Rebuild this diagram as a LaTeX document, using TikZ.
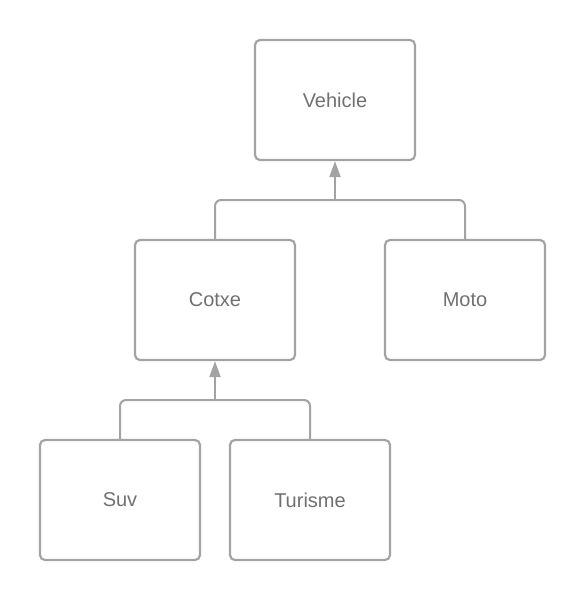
\documentclass[tikz,border=0pt]{standalone}
\usepackage{fontspec}
\setmainfont{Liberation Sans}
\usetikzlibrary{arrows.meta}
\definecolor{linegray}{HTML}{A3A3A3}
\definecolor{textgray}{HTML}{707070}
\begin{document}
\begin{tikzpicture}[x=1pt,y=-1pt,
  box/.style={draw=linegray,line width=2.2pt,rounded corners=5pt,minimum width=160pt,minimum height=120pt,text=textgray,font=\fontsize{20}{23}\selectfont,inner sep=0pt,anchor=center},
  conn/.style={draw=linegray,line width=2pt,rounded corners=6pt},
  arr/.style={draw=linegray,line width=2pt,-{Triangle[length=16pt,width=11pt]}}]
\useasboundingbox (0,0) rectangle (585,600);
\node[box] (veh) at (335,100) {Vehicle};
\node[box] (cot) at (215,300) {Cotxe};
\node[box] (mot) at (465,300) {Moto};
\node[box] (suv) at (120,500) {Suv};
\node[box] (tur) at (310,500) {Turisme};
\coordinate (j1) at (335,200);
\coordinate (j2) at (215,400);
\draw[conn] (cot.north) |- (j1) -| (mot.north);
\draw[arr] (j1) -- (veh.south);
\draw[conn] (suv.north) |- (j2) -| (tur.north);
\draw[arr] (j2) -- (cot.south);
\end{tikzpicture}
\end{document}
